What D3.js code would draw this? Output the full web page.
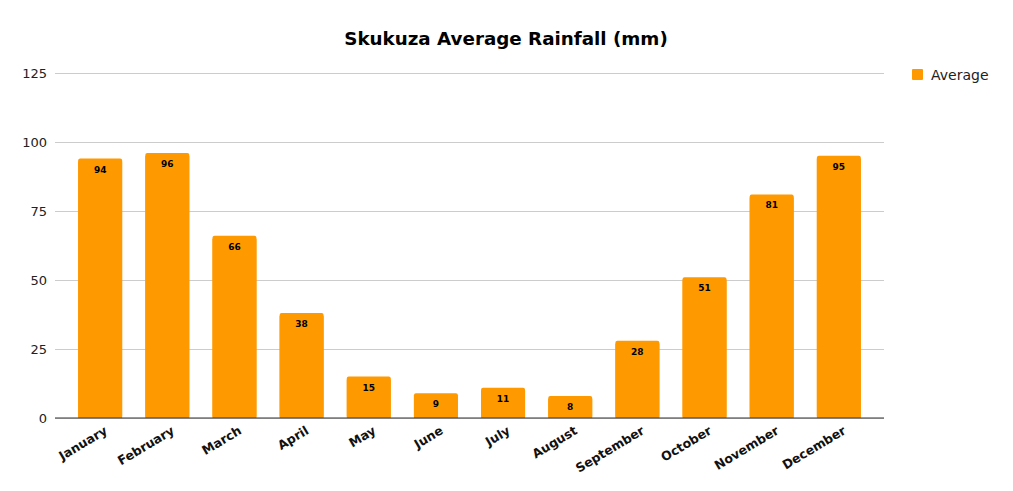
<!doctype html>
<html>
<head>
    <meta charset="UTF-8">
    <title>Skukuza Average Rainfall</title>
    <script src="https://cdn.jsdelivr.net/npm/d3@7"></script>
    <style>
        body{ margin:0; background:#fff; }
        text{ font-family: "DejaVu Sans", Verdana, sans-serif; }
    </style>
</head>
<body>
    <svg id="chart"></svg>
    <script>
        // data
        var months = ["January","February","March","April","May","June","July","August","September","October","November","December"];
        var average = [94, 96, 66, 38, 15, 9, 11, 8, 28, 51, 81, 95];
        var yTicks = [0, 25, 50, 75, 100, 125];
        var seriesName = "Average";

        var w = 1013, h = 491;
        var pLeft = 55, pRight = 884, pTop = 73, pBottom = 418;
        var barColor = "#ff9900";

        var svg = d3.select("#chart").attr("width", w).attr("height", h);

        var x = d3.scaleBand().domain(months).range([pLeft, pRight]).padding(0.345);
        var y = d3.scaleLinear().domain([0, 125]).range([pBottom, pTop]);

        // title
        svg.append("text")
           .attr("x", 506).attr("y", 45)
           .attr("text-anchor", "middle")
           .attr("font-size", 18.3).attr("font-weight", "bold")
           .text("Skukuza Average Rainfall (mm)");

        // grid + y labels
        var yAxis = svg.append("g")
            .attr("transform", "translate(" + pLeft + ",0)")
            .call(d3.axisLeft(y).tickValues(yTicks).tickSize(-(pRight - pLeft)).tickPadding(8));
        yAxis.select(".domain").remove();
        yAxis.selectAll(".tick line").attr("stroke", "#cccccc");
        yAxis.selectAll(".tick text").attr("font-size", 13).attr("fill", "#222")
             .style("font-family", "DejaVu Sans");

        // bars
        svg.selectAll("rect.bar")
           .data(average)
           .enter()
           .append("rect")
           .attr("class", "bar")
           .attr("x", function(d, i){ return x(months[i]); })
           .attr("y", function(d){ return y(d); })
           .attr("width", x.bandwidth())
           .attr("height", function(d){ return y(0) - y(d); })
           .attr("rx", 2)
           .attr("fill", barColor);

        // cover rounded bottoms
        svg.selectAll("rect.base")
           .data(average)
           .enter()
           .append("rect")
           .attr("class", "base")
           .attr("x", function(d, i){ return x(months[i]); })
           .attr("y", function(d){ return y(d) + 3; })
           .attr("width", x.bandwidth())
           .attr("height", function(d){ return y(0) - y(d) - 3; })
           .attr("fill", barColor);

        // value labels
        svg.selectAll("text.val")
           .data(average)
           .enter()
           .append("text")
           .attr("class", "val")
           .attr("x", function(d, i){ return x(months[i]) + x.bandwidth() / 2; })
           .attr("y", function(d){ return y(d) + 14; })
           .attr("text-anchor", "middle")
           .attr("font-size", 9).attr("font-weight", "bold")
           .text(function(d){ return d; });

        // x axis
        var xAxis = svg.append("g")
            .attr("transform", "translate(0," + pBottom + ")")
            .call(d3.axisBottom(x).tickSize(0).tickSizeOuter(0));
        xAxis.select(".domain").attr("stroke", "#333").attr("stroke-width", 1.2)
             .attr("d", "M" + pLeft + ",0H" + pRight);
        xAxis.selectAll(".tick text")
             .attr("font-size", 12.5).attr("font-weight", "bold").attr("fill", "#111")
             .style("font-family", "DejaVu Sans")
             .attr("text-anchor", "end")
             .attr("dy", null).attr("y", 0)
             .attr("transform", "translate(8,15) rotate(-31)");

        // legend
        var lg = svg.append("g").attr("transform", "translate(912,69)");
        lg.append("rect").attr("width", 11).attr("height", 11).attr("rx", 1).attr("fill", barColor);
        lg.append("text").attr("x", 19).attr("y", 11).attr("font-size", 14).attr("fill", "#222").text(seriesName);
    </script>
</body>
</html>
